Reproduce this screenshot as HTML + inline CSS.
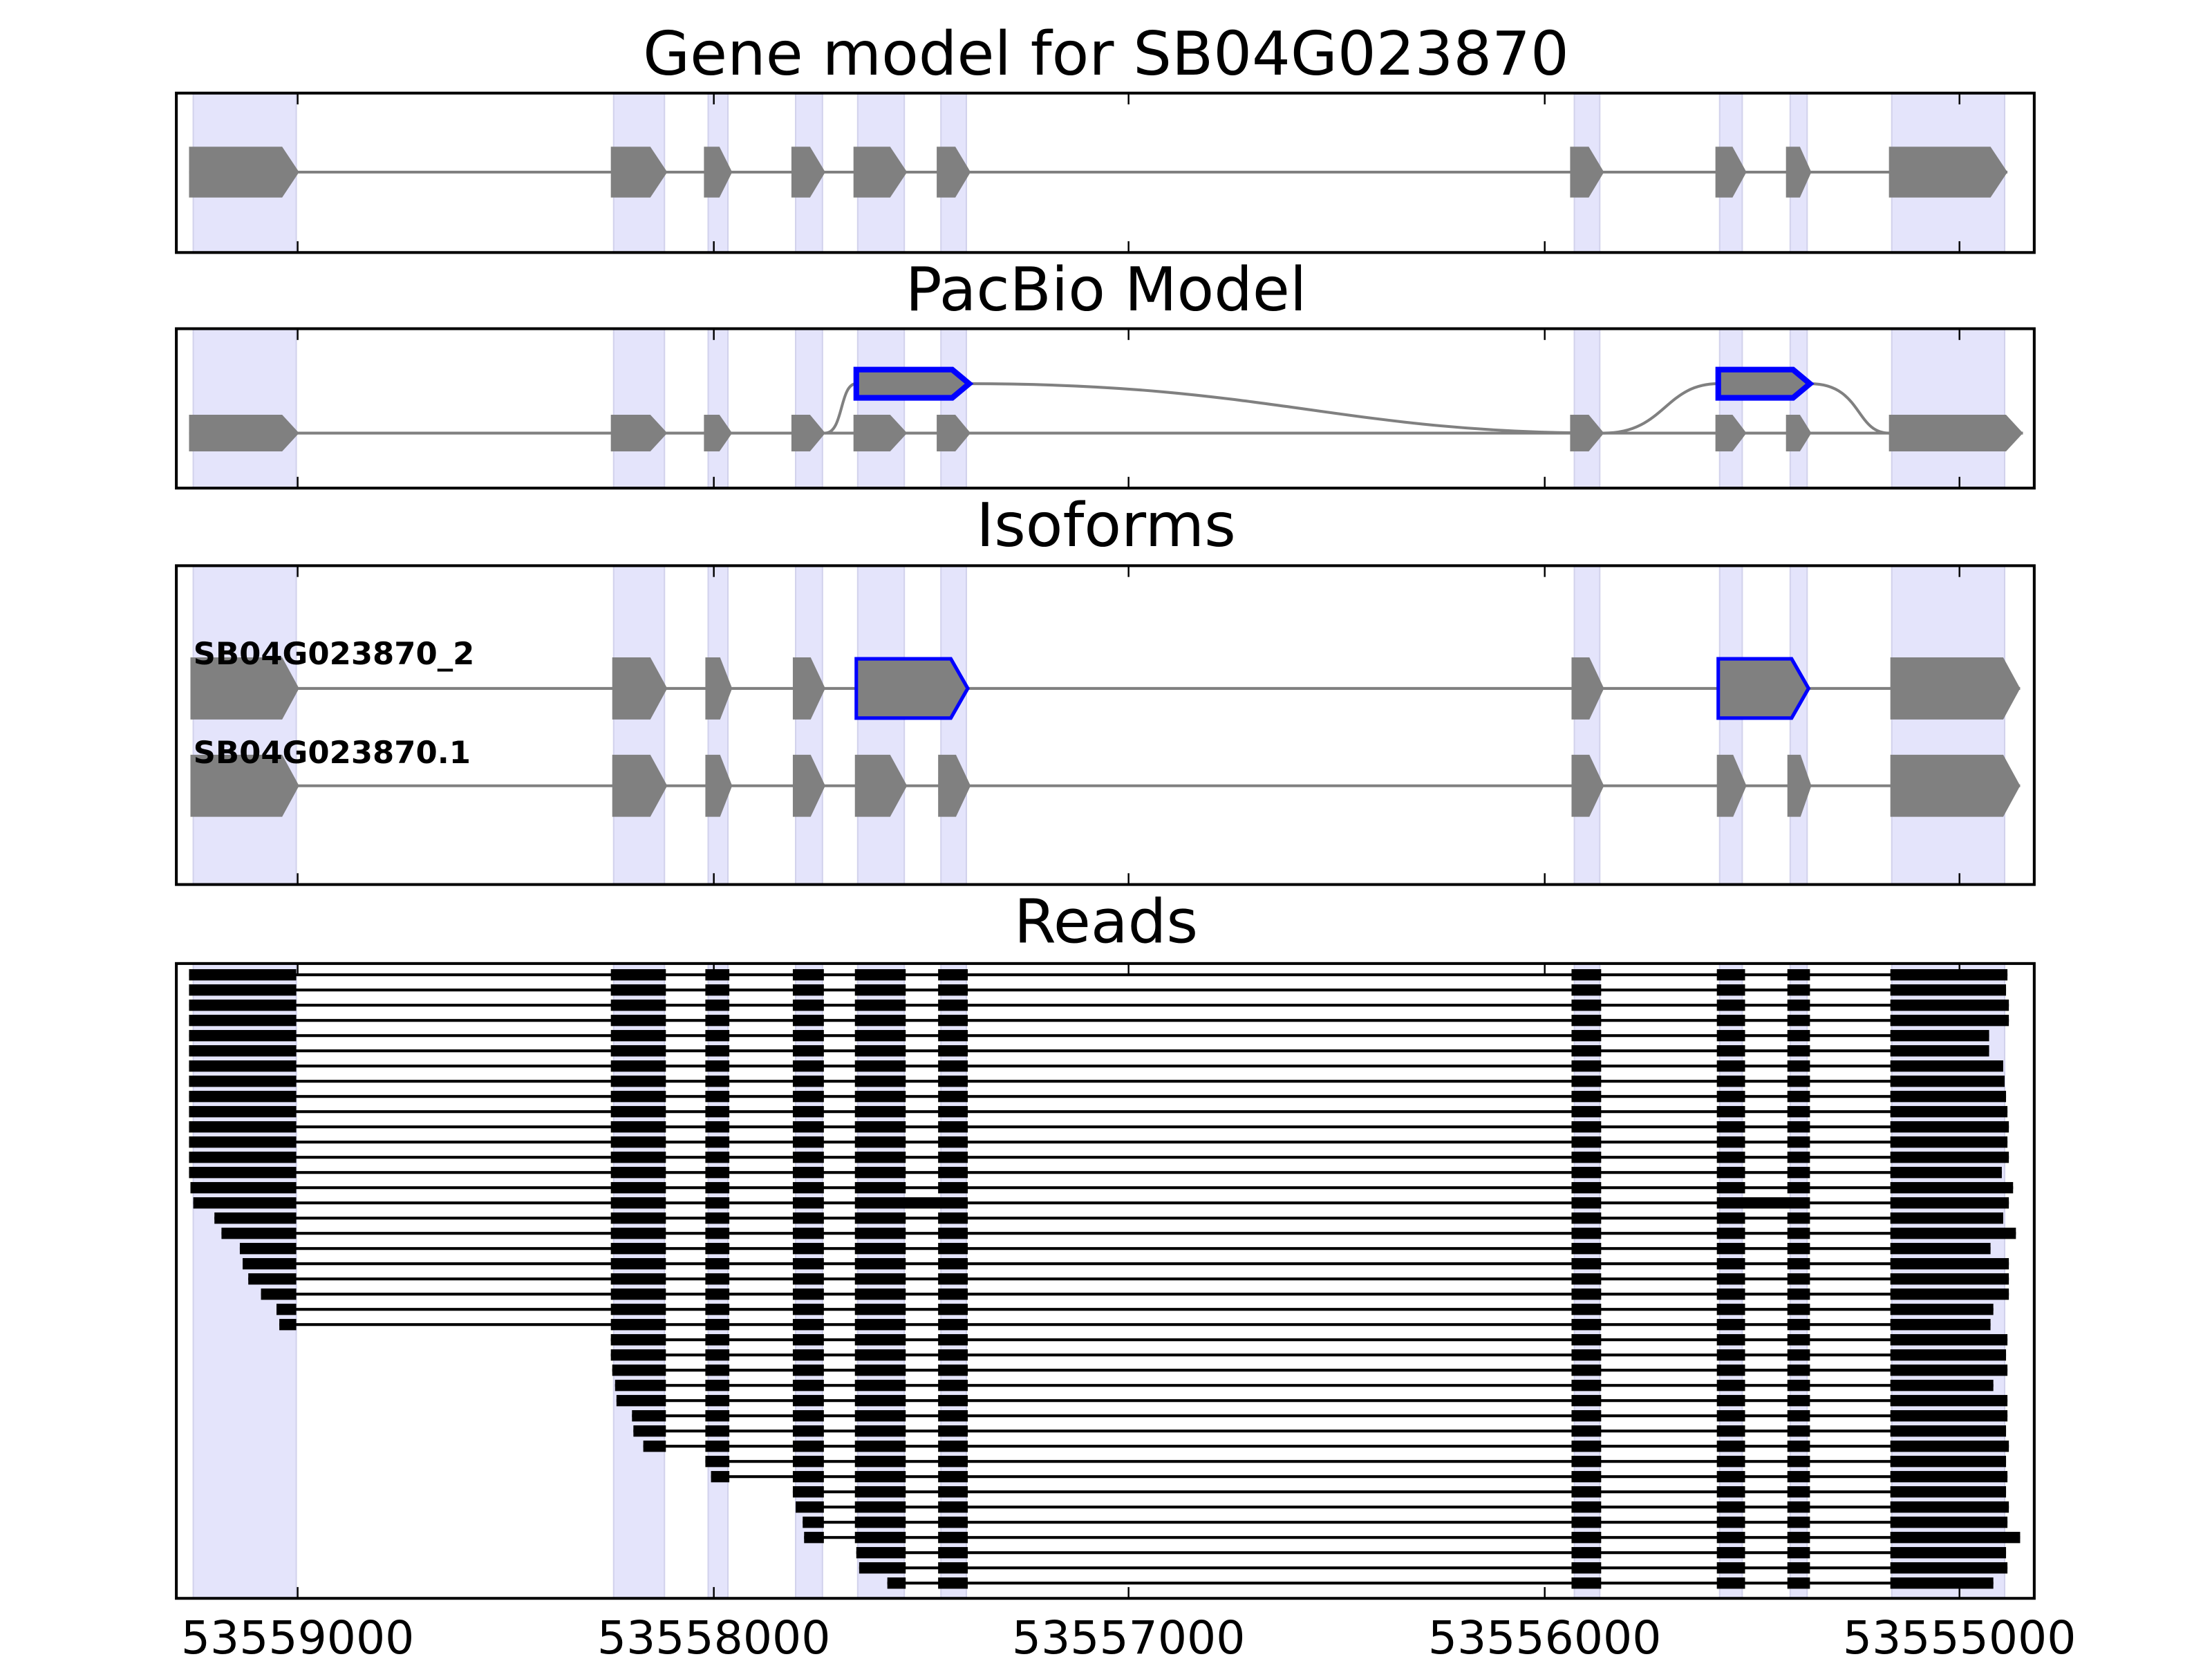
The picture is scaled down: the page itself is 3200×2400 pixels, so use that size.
<!DOCTYPE html>
<html><head><meta charset="utf-8"><style>html,body{margin:0;padding:0;background:#fff}svg{display:block}</style></head>
<body>
<svg id="s" xmlns="http://www.w3.org/2000/svg" width="3200" height="2400" viewBox="0 0 1568 1176" font-family="DejaVu Sans, Liberation Sans, sans-serif">
<rect width="1568" height="1176" fill="#fff"/>
<g id="g"></g>
</svg>
<script>
const g=document.getElementById('g');
let h='';
const shades=[[137,210],[435,471],[502,516],[564,583],[608,641],[667,685],[1116,1134],[1219,1235],[1269,1281],[1341,1421]];
const panels=[[66,179,'Gene model for SB04G023870',53],[233,346,'PacBio Model',220],[401,627,'Isoforms',387],[683,1133,'Reads',668]];
const L=125,R=1442;
const ticks=[[211,'53559000'],[506,'53558000'],[800,'53557000'],[1095,'53556000'],[1389,'53555000']];
for(const [t,b,title,ty] of panels){
  for(const [a,c] of shades) h+=`<rect x="${a}" y="${t}" width="${c-a}" height="${b-t}" fill="#e4e4fb" stroke="#d2d2ec" stroke-width="1"/>`;
  h+=`<text x="784" y="${ty}" font-size="43" text-anchor="middle">${title}</text>`;
}
const ex=[[134,212],[433,473],[499,519],[561,585],[605,643],[664,688],[1113,1137],[1216,1238],[1266,1284],[1339,1423]];
function pent(a,c,y,hh,fill,stroke,sw){const d=Math.min(12,(c-a)*0.45);return `<polygon points="${a},${y-hh/2} ${c-d},${y-hh/2} ${c},${y} ${c-d},${y+hh/2} ${a},${y+hh/2}" fill="${fill}" ${stroke?`stroke="${stroke}" stroke-width="${sw}"`:''}/>`;}
h+=`<line x1="134" x2="1423" y1="122" y2="122" stroke="#808080" stroke-width="2"/>`;
for(const [a,c] of ex) h+=pent(a,c,122,36,'#808080');
h+=`<line x1="134" x2="1434" y1="307" y2="307" stroke="#808080" stroke-width="2"/>`;
h+=`<path d="M585,307 C598,307 595,272 607,272 M687,272 C900,272 950,307 1137,307 M1137,307 C1180,307 1180,272 1218,272 M1283,272 C1320,272 1315,307 1339,307" fill="none" stroke="#808080" stroke-width="2"/>`;
const ex2=ex.map(e=>e.slice());ex2[9]=[1339,1434];
for(const [a,c] of ex2) h+=pent(a,c,307,26,'#808080');
h+=pent(607,687,272,20,'#808080','#0000ff',4);
h+=pent(1218,1283,272,20,'#808080','#0000ff',4);
const ex3=ex.map(e=>[e[0]+1,e[1]]);ex3[9]=[1340,1432];ex3[0]=[135,212];
h+=`<line x1="135" x2="1432" y1="488" y2="488" stroke="#808080" stroke-width="2"/>`;
h+=`<line x1="135" x2="1432" y1="557" y2="557" stroke="#808080" stroke-width="2"/>`;
[0,1,2,3,6,9].forEach(i=>h+=pent(ex3[i][0],ex3[i][1],488,44,'#808080'));
h+=pent(607,686,488,42,'#808080','#0000ff',2.5);
h+=pent(1218,1282,488,42,'#808080','#0000ff',2.5);
ex3.forEach(e=>h+=pent(e[0],e[1],557,44,'#808080'));
h+=`<text x="137" y="471" font-size="22" font-weight="bold">SB04G023870_2</text>`;
h+=`<text x="137" y="541" font-size="22" font-weight="bold">SB04G023870.1</text>`;
const rex=[[134,210],[433,472],[500,517],[562,584],[606,642],[665,686],[1114,1135],[1217,1237],[1267,1283],[1340,1422]];
const starts=[134,134,134,134,134,134,134,134,134,134,134,134,134,134,135,137,152,157,170,172,176,185,196,198,431,433,434,436,437,448,449,456,500,504,559,564,569,570,607,609,629];
const ends=[1423,1422,1424,1424,1410,1410,1420,1421,1422,1423,1424,1423,1424,1419,1427,1424,1420,1429,1411,1424,1424,1424,1413,1411,1423,1422,1423,1413,1423,1423,1422,1424,1422,1423,1422,1424,1423,1432,1422,1423,1413];
for(let i=0;i<41;i++){
  const y=691+i*10.78, s=starts[i], e=ends[i];
  let blocks=rex.map(b=>b.slice());
  if(i===15){blocks=[rex[0],rex[1],rex[2],rex[3],[606,686],rex[6],[1217,1283],rex[9]];}
  let ls=s;
  for(const [a,c] of blocks){ if(c>s){ls=Math.max(a,s);break;} }
  h+=`<line x1="${ls}" x2="${e}" y1="${y}" y2="${y}" stroke="#000" stroke-width="2"/>`;
  for(const [a,c] of blocks){
    const x1=Math.max(a,s),x2=Math.min(a===1340?e:c,e);
    if(x2>x1) h+=`<rect x="${x1}" y="${y-4}" width="${x2-x1}" height="8" fill="#000"/>`;
  }
}
for(const [t,b] of panels){
  h+=`<rect x="${L}" y="${t}" width="${R-L}" height="${b-t}" fill="none" stroke="#000" stroke-width="2"/>`;
  for(const [x] of ticks){h+=`<line x1="${x}" x2="${x}" y1="${t}" y2="${t+8}" stroke="#000" stroke-width="1.2"/><line x1="${x}" x2="${x}" y1="${b}" y2="${b-8}" stroke="#000" stroke-width="1.2"/>`;}
}
for(const [x,l] of ticks) h+=`<text x="${x}" y="1172" font-size="32.5" text-anchor="middle">${l}</text>`;
g.innerHTML=h;
</script>
</body></html>
